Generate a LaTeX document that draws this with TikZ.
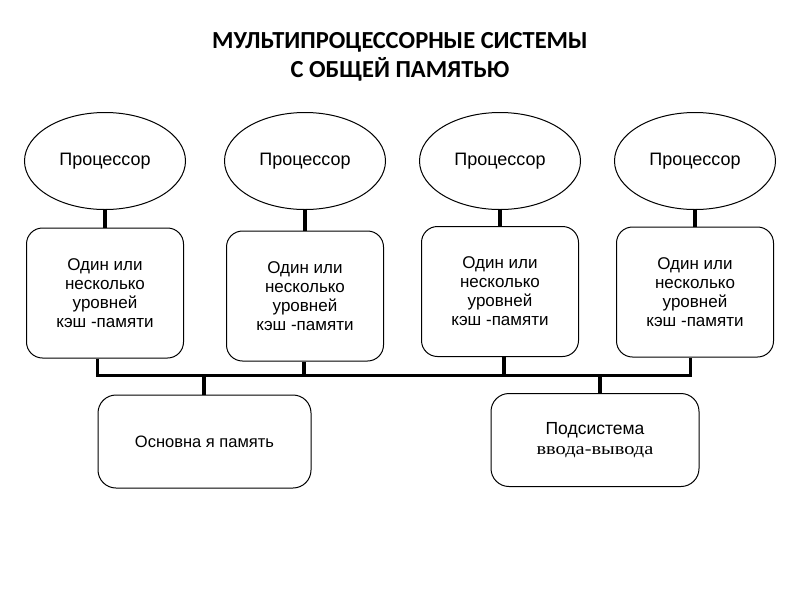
\documentclass[tikz,border=0pt]{standalone}
\usepackage{fontspec}
\setmainfont{Liberation Sans}
\newfontfamily\titlefont{Carlito}
\newfontfamily\serifio{Liberation Serif}
\usetikzlibrary{shapes.geometric,calc}
\begin{document}
\begin{tikzpicture}[x=1pt,y=-1pt,
  proc/.style={ellipse, draw, line width=1pt, minimum width=161pt, minimum height=97pt, inner sep=0pt, font=\fontsize{18}{20}\selectfont},
  cache/.style={draw, rounded corners=16pt, line width=1pt, minimum width=157pt, minimum height=130pt, inner sep=0pt, align=center, font=\fontsize{17}{19}\selectfont},
  unit/.style={draw, rounded corners=18pt, line width=1pt, minimum height=93pt, inner sep=0pt, align=center},
  link/.style={line width=3.5pt},
  busline/.style={line width=3pt, line join=miter},
  titletext/.style={align=center, font=\titlefont\bfseries\fontsize{24.5}{28.5}\selectfont}]
\useasboundingbox (0,0) rectangle (800,600);

\node[titletext] (title) at (400,57) {МУЛЬТИПРОЦЕССОРНЫЕ СИСТЕМЫ\\С ОБЩЕЙ ПАМЯТЬЮ};

\node[proc] (p1) at (105,161) {Процессор};
\node[proc] (p2) at (305,161) {Процессор};
\node[proc] (p3) at (500,161) {Процессор};
\node[proc] (p4) at (695,161) {Процессор};

\node[cache] (b1) at (105,293) {Один или\\несколько\\уровней\\кэш -памяти};
\node[cache] (b2) at (305,296) {Один или\\несколько\\уровней\\кэш -памяти};
\node[cache] (b3) at (500,291.5) {Один или\\несколько\\уровней\\кэш -памяти};
\node[cache] (b4) at (695,292) {Один или\\несколько\\уровней\\кэш -памяти};

\node[unit, minimum width=213pt, font=\fontsize{16.5}{20}\selectfont] (mem) at (204.5,441.5) {Основна я память};
\node[unit, minimum width=208pt, font=\fontsize{17.5}{20}\selectfont] (io) at (595,440) {Подсистема\\{\serifio\fontsize{17}{20}\selectfont\scalebox{1.2}[1]{ввода-вывода}}};

\draw[link] (p1.south) -- (b1.north);
\draw[link] (p2.south) -- (b2.north);
\draw[link] (p3.south) -- (b3.north);
\draw[link] (p4.south) -- (b4.north);

\coordinate (t1) at (97,375);
\coordinate (t2) at (304,375);
\coordinate (t3) at (504,375);
\coordinate (t4) at (690,375);
\coordinate (d1) at (204,375);
\coordinate (d2) at (600,375);

\draw[busline] (b1.south -| t1) -- (t1) -- (t4) -- (b4.south -| t4);
\draw[link] (b2.south -| t2) -- (t2);
\draw[link] (b3.south -| t3) -- (t3);
\draw[link] (d1) -- (mem.north -| d1);
\draw[link] (d2) -- (io.north -| d2);
\end{tikzpicture}
\end{document}
